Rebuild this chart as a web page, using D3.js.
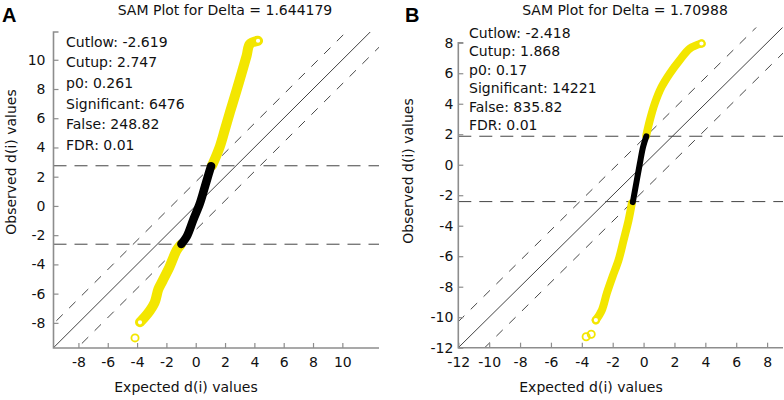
<!DOCTYPE html>
<html><head><meta charset="utf-8">
<script src="https://cdn.jsdelivr.net/npm/d3@7"></script>
<style>body{margin:0;background:#fff}svg{display:block}</style>
</head><body><svg id="c" width="784" height="400"></svg>
<script>
// ---------- data ----------
const panelLetters = ["A", "B"];
const titles = ["SAM Plot for Delta = 1.644179", "SAM Plot for Delta = 1.70988"];
const deltas = [1.644179, 1.70988];
const cutlows = [-2.619, -2.418];
const cutups = [2.747, 1.868];
const statsA = ["Cutlow: -2.619", "Cutup: 2.747", "p0: 0.261", "Significant: 6476", "False: 248.82", "FDR: 0.01"];
const statsB = ["Cutlow: -2.418", "Cutup: 1.868", "p0: 0.17", "Significant: 14221", "False: 835.82", "FDR: 0.01"];
const xTicksA = [-8, -6, -4, -2, 0, 2, 4, 6, 8, 10];
const yTicksA = [-8, -6, -4, -2, 0, 2, 4, 6, 8, 10];
const xTicksB = [-12, -10, -8, -6, -4, -2, 0, 2, 4, 6, 8];
const yTicksB = [-12, -10, -8, -6, -4, -2, 0, 2, 4, 6, 8];
// [expected d(i), observed d(i)]
const aSigUp = [[1.10, 2.75], [1.19, 2.94], [1.65, 4.08], [1.99, 5.23], [2.33, 6.40], [2.67, 7.52], [3.01, 8.67], [3.47, 10.27], [3.69, 11.07], [4.25, 11.30]];
const aNonSig = [[-0.98, -2.6], [-0.62, -2.11], [-0.17, -0.96], [0.29, 0.19], [0.63, 1.33], [0.97, 2.48], [1.05, 2.72]];
const aSigDown = [[-3.80, -7.96], [-3.30, -7.40], [-2.80, -6.60], [-2.55, -5.70], [-2.25, -5.10], [-1.80, -4.20], [-1.30, -3.03], [-1.02, -2.65]];
const aOutliers = [[-4.14, -9.03]];
const bSigUp = [[0.17, 1.90], [0.41, 2.93], [0.73, 4.03], [1.17, 5.11], [1.70, 5.99], [2.35, 6.87], [3.00, 7.63], [3.75, 7.95]];
const bNonSig = [[-0.70, -2.45], [-0.65, -2.20], [-0.24, 0.09], [-0.03, 1.18], [0.18, 1.87]];
const bSigDown = [[-3.09, -10.19], [-2.70, -9.53], [-2.38, -8.43], [-2.01, -7.34], [-1.62, -6.25], [-1.29, -4.94], [-0.97, -3.63], [-0.76, -2.53]];
const bOutliers = [[-3.39, -11.12], [-3.72, -11.28]];

// ---------- layout ----------
const panels = [
  { letter: panelLetters[0], title: titles[0], delta: deltas[0], cutlow: cutlows[0], cutup: cutups[0],
    stats: statsA, xTicks: xTicksA, yTicks: yTicksA, up: aSigUp, mid: aNonSig, down: aSigDown, out: aOutliers,
    xDom: [-9.7, 12.5], xRange: [53.5, 379], yDom: [-9.72, 11.9], yRange: [348, 32], yAxisTop: 11.9,
    letterX: 2, titleX: 225, statX: 66, statY: 46.5, statDy: 20.7, yLabX: 11, yLabY: 162, xLabX: 186,
    upW: 10, midW: 8.5, tickGap: 8 },
  { letter: panelLetters[1], title: titles[1], delta: deltas[1], cutlow: cutlows[1], cutup: cutups[1],
    stats: statsB, xTicks: xTicksB, yTicks: yTicksB, up: bSigUp, mid: bNonSig, down: bSigDown, out: bOutliers,
    xDom: [-12, 9.03], xRange: [458.3, 783], yDom: [-12, 9], yRange: [347.7, 27.5], yAxisTop: 8,
    letterX: 405, titleX: 625, statX: 469, statY: 38, statDy: 18.4, yLabX: 408, yLabY: 171, xLabX: 591,
    upW: 8, midW: 6, tickGap: 5 }
];

const svg = d3.select("#c");
const FONT = "DejaVu Sans, Verdana, sans-serif";
const FS = 14;
const YEL = "#f3e600";
const AX = "#8d8d8d";
const fmt = d => String(d);

panels.forEach((p, i) => {
  const x = d3.scaleLinear().domain(p.xDom).range(p.xRange);
  const y = d3.scaleLinear().domain(p.yDom).range(p.yRange);
  const g = svg.append("g");
  const clipId = "clip" + i;
  svg.append("clipPath").attr("id", clipId).append("rect")
    .attr("x", p.xRange[0]).attr("y", p.yRange[1])
    .attr("width", p.xRange[1] - p.xRange[0]).attr("height", p.yRange[0] - p.yRange[1]);

  // letter + title
  g.append("text").attr("x", p.letterX).attr("y", 22).text(p.letter)
    .attr("font-family", "Liberation Sans, Arial, sans-serif").attr("font-weight", "bold")
    .attr("font-size", 20).attr("fill", "#000");
  g.append("text").attr("x", p.titleX).attr("y", 15).attr("text-anchor", "middle").text(p.title)
    .attr("font-family", FONT).attr("font-size", FS).attr("fill", "#111");

  // reference lines
  const lines = g.append("g").attr("clip-path", `url(#${clipId})`);
  const lo = Math.min(p.xDom[0], p.yDom[0]) - 5, hi = Math.max(p.xDom[1], p.yDom[1]) + 5;
  [0, p.delta, -p.delta].forEach(off => {
    lines.append("line")
      .attr("x1", x(lo)).attr("y1", y(lo + off)).attr("x2", x(hi)).attr("y2", y(hi + off))
      .attr("stroke", off === 0 ? "#111" : "#333").attr("stroke-width", off === 0 ? 0.8 : 0.9)
      .attr("stroke-dasharray", off === 0 ? null : "9,9");
  });
  [p.cutup, p.cutlow].forEach(c => {
    lines.append("line").attr("x1", p.xRange[0]).attr("x2", p.xRange[1])
      .attr("y1", y(c)).attr("y2", y(c))
      .attr("stroke", "#444").attr("stroke-width", 1).attr("stroke-dasharray", "13,8");
  });

  // point bands
  const line = d3.line().x(d => x(d[0])).y(d => y(d[1])).curve(d3.curveCatmullRom);
  const drawBand = (pts, color, w) => {
    g.append("path").datum(pts).attr("d", line).attr("fill", "none").attr("stroke", color)
      .attr("stroke-width", w).attr("stroke-linecap", "round").attr("stroke-linejoin", "round");
  };
  drawBand(p.down, YEL, p.upW);
  drawBand(p.up, YEL, p.upW);
  drawBand(p.mid, "#000", p.midW);
  // end markers (open circles)
  const ends = [p.up[p.up.length - 1], p.down[0]];
  g.selectAll(null).data(ends).enter().append("circle")
    .attr("cx", d => x(d[0])).attr("cy", d => y(d[1])).attr("r", 3.2)
    .attr("fill", "#fff").attr("stroke", YEL).attr("stroke-width", 2.2);
  g.selectAll(null).data(p.out).enter().append("circle")
    .attr("cx", d => x(d[0])).attr("cy", d => y(d[1])).attr("r", 3.6)
    .attr("fill", "none").attr("stroke", YEL).attr("stroke-width", 1.8);

  // stats text
  g.selectAll(null).data(p.stats).enter().append("text")
    .attr("x", p.statX).attr("y", (d, k) => p.statY + k * p.statDy).text(d => d)
    .attr("font-family", FONT).attr("font-size", FS).attr("fill", "#111");

  // axes
  const xa = d3.axisBottom(x).tickValues(p.xTicks).tickFormat(fmt).tickSize(-5).tickSizeOuter(0).tickPadding(9);
  const gx = g.append("g").attr("transform", `translate(0,${p.yRange[0]})`).call(xa);
  const ya = d3.axisLeft(y).tickValues(p.yTicks).tickFormat(fmt).tickSize(-5).tickSizeOuter(0).tickPadding(p.tickGap);
  const gy = g.append("g").attr("transform", `translate(${p.xRange[0]},0)`).call(ya);
  [gx, gy].forEach(a => {
    a.select(".domain").remove();
    a.selectAll(".tick line").attr("stroke", AX).attr("stroke-width", 1.2);
    a.selectAll(".tick text").attr("font-family", FONT).attr("font-size", FS).attr("fill", "#111");
  });
  g.append("path")
    .attr("d", `M${p.xRange[0] + 5},${y(p.yAxisTop)}H${p.xRange[0]}V${p.yRange[0]}H${p.xRange[1]}`)
    .attr("fill", "none").attr("stroke", AX).attr("stroke-width", 1.6);

  // axis labels
  g.append("text").attr("x", p.xLabX).attr("y", 392).attr("text-anchor", "middle")
    .text("Expected d(i) values").attr("font-family", FONT).attr("font-size", FS).attr("fill", "#111");
  g.append("text").attr("transform", `translate(${p.yLabX + 5},${p.yLabY}) rotate(-90)`)
    .attr("text-anchor", "middle").text("Observed d(i) values")
    .attr("font-family", FONT).attr("font-size", FS).attr("fill", "#111");
});
</script>
</body></html>
